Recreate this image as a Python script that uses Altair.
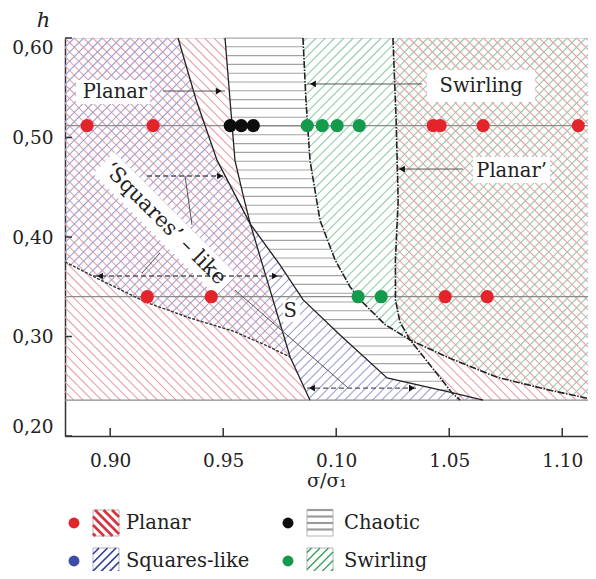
import json
import numpy as np
import pandas as pd
import altair as alt

SERIF = "DejaVu Serif"

# ---------------- axis ticks / labels ----------------
X_TICKS = [0.90, 0.95, 1.00, 1.05, 1.10]
X_TICK_LABELS = ["0.90", "0.95", "0.10", "1.05", "1.10"]
Y_TICKS = [0.20, 0.30, 0.40, 0.50, 0.60]
Y_TICK_LABELS = ["0,20", "0,30", "0,40", "0,50", "0,60"]
X_TITLE = "σ/σ₁"
Y_TITLE = "h"
X_DOMAIN = [0.88, 1.1114]
Y_DOMAIN = [0.20, 0.60]

# ---------------- measurement rows ----------------
H_UPPER = 0.512
H_LOWER = 0.340
H_BOTTOM = 0.236

PLANAR_UPPER = [0.8898, 0.9190, 1.0429, 1.0460, 1.0650, 1.1071]
CHAOTIC_UPPER = [0.9531, 0.9580, 0.9633]
SWIRLING_UPPER = [0.9872, 0.9938, 1.0004, 1.0102]
PLANAR_LOWER = [0.9164, 0.9447, 1.0482, 1.0668]
SWIRLING_LOWER = [1.0097, 1.0199]

# ---------------- regime boundaries (sigma/sigma1, h) ----------------
X_AB = (0.9620, 0.4130)
P_DB = (0.9796, 0.2794)
X_SP = (1.0327, 0.2965)
X_AP = (1.0512, 0.2435)

CURVE_A = [(0.9300, 0.600), (0.9380, 0.538), (0.9473, 0.477), X_AB, (0.9751, 0.372),
           (0.9853, 0.337), (1.0017, 0.3015), (1.0225, 0.2583), X_AP, (1.0650, 0.236)]
CURVE_B = [(0.9508, 0.600), (0.9530, 0.538), (0.9552, 0.477), (0.9588, 0.442), X_AB,
           (0.9720, 0.337), P_DB, (0.9884, 0.236)]
CURVE_SR = [(0.9853, 0.600), (0.9866, 0.538), (0.9884, 0.477), (0.9928, 0.417), (0.9995, 0.377),
            (1.0061, 0.350), (1.0105, 0.337), (1.0216, 0.312), X_SP, (1.0504, 0.278),
            (1.0712, 0.259), (1.0946, 0.246), (1.1114, 0.2378)]
CURVE_P = [(1.0251, 0.600), (1.0265, 0.518), (1.0274, 0.437), (1.0262, 0.377), (1.0262, 0.337),
           (1.0282, 0.3146), X_SP, (1.0415, 0.2714), X_AP, (1.0548, 0.236)]
CURVE_D = [(0.8800, 0.375), (0.8955, 0.357), (0.9163, 0.334), (0.9353, 0.3186),
           (0.9543, 0.3055), (0.9685, 0.2915), P_DB]

# ---------------- annotations ----------------
LABEL_TEXT = ["Planar", "Swirling", "Planar’", "S"]
LABEL_X = [0.9021, 1.0641, 1.0776, 0.9796]
LABEL_H = [0.5457, 0.5518, 0.4663, 0.3256]
LABEL_BOX = [(0.8849, 0.9176, 0.5337, 0.5578), (1.0402, 1.0880, 0.5357, 0.5678),
             (1.0605, 1.0946, 0.4543, 0.4804), (0.9765, 0.9840, 0.3146, 0.3367)]
ROT_TEXT = "‘Squares’ – like"
ROT_AT = (0.9242, 0.4131)
ROT_BAND = [(0.8972, 0.4745), (0.9513, 0.3517)]

SOLID_LEADERS = [((0.9234, 0.5467), (0.9508, 0.5467)),
                 ((1.0380, 0.5538), (0.9871, 0.5538)),
                 ((1.0561, 0.4683), (1.0265, 0.4683)),
                 ((0.9331, 0.4613), (0.9362, 0.4121)),
                 ((0.9220, 0.3839), (0.9141, 0.3638)),
                 ((0.9552, 0.3467), (1.0048, 0.2492))]
DASHED_LEADERS = [((0.9163, 0.4613), (0.9499, 0.4613)),
                  ((0.8924, 0.3608), (0.9765, 0.3608)),
                  ((0.9871, 0.2482), (1.0358, 0.2482))]
HEADS_RIGHT = [(0.9480, 0.5467), (0.9486, 0.4613), (0.9729, 0.3608), (1.0335, 0.2482)]
HEADS_LEFT = [(0.9897, 0.5538), (1.0291, 0.4683), (0.8955, 0.3608), (0.9893, 0.2482)]

LEGEND_LABELS = ["Planar", "Chaotic", "Squares-like", "Swirling"]
LEGEND_DOT_COLORS = ["#e3242b", "#0d0d0d", "#3b4da6", "#139a4a"]
LEGEND_HATCH = ["back", "horiz", "fwd", "fwd"]
LEGEND_HATCH_COLORS = ["#d8343f", "#9a9a9a", "#2d3c98", "#2b9a57"]

# ---------------- geometry helpers ----------------
W, H = 523, 398
PAD = {"left": 57, "top": 30, "right": 0, "bottom": 135}


def to_px(x, h):
    return ((x - X_DOMAIN[0]) / (X_DOMAIN[1] - X_DOMAIN[0]) * W,
            (Y_DOMAIN[1] - h) / (Y_DOMAIN[1] - Y_DOMAIN[0]) * H)


def to_data(px, py):
    return (X_DOMAIN[0] + px / W * (X_DOMAIN[1] - X_DOMAIN[0]),
            Y_DOMAIN[1] - py / H * (Y_DOMAIN[1] - Y_DOMAIN[0]))


def back_uv(kind, u, v):
    if kind == "back":
        return ((v - u) / 2, (v + u) / 2)
    if kind == "fwd":
        return ((u + v) / 2, (u - v) / 2)
    return (v, u)


def hatch(poly, kind, step, phase=0.0):
    P = np.asarray(poly, dtype=float)
    X, Y = P[:, 0], P[:, 1]
    if kind == "back":
        u, v = Y - X, X + Y
    elif kind == "fwd":
        u, v = X + Y, X - Y
    else:
        u, v = Y, X
    n = len(P)
    out = []
    k0 = int(np.floor((u.min() - phase) / step))
    k1 = int(np.ceil((u.max() - phase) / step))
    for k in range(k0, k1 + 1):
        uc = phase + k * step
        hits = []
        for i in range(n):
            u1, v1 = u[i], v[i]
            u2, v2 = u[(i + 1) % n], v[(i + 1) % n]
            if (u1 <= uc < u2) or (u2 <= uc < u1):
                hits.append(v1 + (uc - u1) / (u2 - u1) * (v2 - v1))
        hits.sort()
        for j in range(0, len(hits) - 1, 2):
            out.append((back_uv(kind, uc, hits[j]), back_uv(kind, uc, hits[j + 1])))
    return out


def seg(curve, a, b):
    i, j = curve.index(a), curve.index(b)
    return list(curve[i:j + 1])


A, B, SR, P, D = CURVE_A, CURVE_B, CURVE_SR, CURVE_P, CURVE_D
XL, XR = X_DOMAIN
YT = Y_DOMAIN[1]
R1 = [(XL, YT)] + seg(A, A[0], X_AB) + seg(B, X_AB, P_DB)[1:] + list(reversed(D))[1:]
R2 = seg(A, A[0], X_AB) + list(reversed(seg(B, B[0], X_AB)))[1:]
R3 = list(D) + seg(B, P_DB, B[-1])[1:] + [(XL, H_BOTTOM)]
R4 = seg(B, X_AB, B[-1]) + list(reversed(seg(A, X_AB, A[-1])))
R5 = (seg(B, B[0], X_AB) + seg(A, X_AB, X_AP)[1:] + list(reversed(seg(P, X_SP, X_AP)))[1:]
      + list(reversed(seg(SR, SR[0], X_SP)))[1:])
R6 = seg(SR, SR[0], X_SP) + list(reversed(seg(P, P[0], X_SP)))[1:]
R7 = seg(P, P[0], X_SP) + seg(SR, X_SP, SR[-1])[1:] + [(XR, YT)]
R8 = seg(SR, X_SP, SR[-1]) + [(XR, H_BOTTOM)] + list(reversed(seg(P, X_SP, P[-1])))[:-1]

REGION_PATTERNS = [
    (R1, "planar"), (R1, "squares"), (R2, "planar"), (R3, "planar"), (R4, "squares"),
    (R5, "chaotic"), (R6, "swirl"), (R7, "swirl"), (R7, "planar"), (R8, "planar"),
]
PAT_KIND = {"planar": "back", "squares": "fwd", "swirl": "fwd", "chaotic": "horiz"}
PAT_STEP = {"planar": 9.3, "squares": 9.3, "swirl": 9.3, "chaotic": 8.8}
PAT_DOMAIN = ["planar", "squares", "swirl", "chaotic"]
PAT_RANGE = ["#e8a2aa", "#a0a0d6", "#96cea8", "#a3a3a3"]
PAT_WIDTH = [1.1, 1.1, 1.1, 1.4]

rows = []
for poly, pat in REGION_PATTERNS:
    pxpoly = [to_px(*p) for p in poly]
    for (a, b) in hatch(pxpoly, PAT_KIND[pat], PAT_STEP[pat]):
        (x1, y1), (x2, y2) = to_data(*a), to_data(*b)
        rows.append(dict(x=x1, y=y1, x2=x2, y2=y2, pat=pat))
hatch_df = pd.DataFrame(rows)

# ---------------- scales / axes ----------------
XS = alt.Scale(domain=X_DOMAIN, nice=False, zero=False)
YS = alt.Scale(domain=Y_DOMAIN, nice=False, zero=False)
xstep = round(X_TICKS[1] - X_TICKS[0], 6)
ystep = round(Y_TICKS[1] - Y_TICKS[0], 6)
x_axis = alt.Axis(values=X_TICKS,
                  labelExpr=f"{json.dumps(X_TICK_LABELS)}[round((datum.value - {X_TICKS[0]}) / {xstep})]",
                  tickSize=0, grid=False, domainColor="#333", domainWidth=1.5,
                  labelFont=SERIF, labelFontSize=18.5, labelColor="#222", labelPadding=15,
                  titleFont=SERIF, titleFontSize=19, titleFontWeight="normal", titleColor="#222",
                  titlePadding=2)
y_axis = alt.Axis(values=Y_TICKS,
                  labelExpr=f"{json.dumps(Y_TICK_LABELS)}[round((datum.value - {Y_TICKS[0]}) / {ystep})]",
                  tickSize=0, grid=False, domainColor="#333", domainWidth=1.5,
                  labelFont=SERIF, labelFontSize=18.5, labelColor="#222", labelPadding=12,
                  labelFlush=True,
                  titleFont=SERIF, titleFontSize=21, titleFontWeight="normal", titleColor="#222",
                  titleFontStyle="italic", titleAngle=0, titleX=-22, titleY=-18,
                  titleAlign="center", titleBaseline="middle")


def EX(f="x"):
    return alt.X(f"{f}:Q", scale=XS, axis=x_axis, title=X_TITLE)


def EY(f="y"):
    return alt.Y(f"{f}:Q", scale=YS, axis=y_axis, title=Y_TITLE)


layers = []

# hatch fills
layers.append(alt.Chart(hatch_df).mark_rule().encode(
    x=EX(), y=EY(), x2="x2:Q", y2="y2:Q",
    color=alt.Color("pat:N", scale=alt.Scale(domain=PAT_DOMAIN, range=PAT_RANGE), legend=None),
    strokeWidth=alt.StrokeWidth("pat:N", scale=alt.Scale(domain=PAT_DOMAIN, range=PAT_WIDTH), legend=None),
))

# measurement rows and base line
rows_df = pd.DataFrame({"y": [H_UPPER, H_LOWER, H_BOTTOM]})
layers.append(alt.Chart(rows_df).mark_rule(color="#8c8c8c", strokeWidth=1.2).encode(y=EY()))


# boundary curves
def curve_df(curves):
    out = []
    for name, c in curves.items():
        for i, (x, h) in enumerate(c):
            out.append(dict(curve=name, i=i, x=x, y=h))
    return pd.DataFrame(out)


layers.append(alt.Chart(curve_df({"A": CURVE_A, "B": CURVE_B})).mark_line(
    color="#222", strokeWidth=1.3).encode(x=EX(), y=EY(), detail="curve:N", order="i:Q"))
layers.append(alt.Chart(curve_df({"SR": CURVE_SR, "P": CURVE_P})).mark_line(
    color="#222", strokeWidth=1.6, strokeDash=[7, 1.5, 1.5, 1.5]).encode(
    x=EX(), y=EY(), detail="curve:N", order="i:Q"))
layers.append(alt.Chart(curve_df({"D": CURVE_D})).mark_line(
    color="#333", strokeWidth=1.4, strokeDash=[3, 1.5]).encode(
    x=EX(), y=EY(), detail="curve:N", order="i:Q"))

# label backgrounds
box_df = pd.DataFrame(LABEL_BOX, columns=["x", "x2", "y", "y2"])
layers.append(alt.Chart(box_df).mark_rect(color="white").encode(
    x=EX(), x2="x2:Q", y=EY(), y2="y2:Q"))
band_df = pd.DataFrame({"x": [ROT_BAND[0][0]], "y": [ROT_BAND[0][1]],
                        "x2": [ROT_BAND[1][0]], "y2": [ROT_BAND[1][1]]})
layers.append(alt.Chart(band_df).mark_rule(color="white", strokeWidth=30, strokeCap="butt").encode(
    x=EX(), y=EY(), x2="x2:Q", y2="y2:Q"))

# leader lines
sl = pd.DataFrame([dict(x=a[0], y=a[1], x2=b[0], y2=b[1]) for a, b in SOLID_LEADERS])
layers.append(alt.Chart(sl).mark_rule(color="#555", strokeWidth=1).encode(
    x=EX(), y=EY(), x2="x2:Q", y2="y2:Q"))
dl = pd.DataFrame([dict(x=a[0], y=a[1], x2=b[0], y2=b[1]) for a, b in DASHED_LEADERS])
layers.append(alt.Chart(dl).mark_rule(color="#555", strokeWidth=1.3, strokeDash=[5, 3]).encode(
    x=EX(), y=EY(), x2="x2:Q", y2="y2:Q"))
hr = pd.DataFrame(HEADS_RIGHT, columns=["x", "y"])
hl = pd.DataFrame(HEADS_LEFT, columns=["x", "y"])
layers.append(alt.Chart(hr).mark_point(shape="triangle-right", filled=True, color="#111",
                                       size=45, opacity=1).encode(x=EX(), y=EY()))
layers.append(alt.Chart(hl).mark_point(shape="triangle-left", filled=True, color="#111",
                                       size=45, opacity=1).encode(x=EX(), y=EY()))

# annotation text
lab_df = pd.DataFrame({"x": LABEL_X, "y": LABEL_H, "t": LABEL_TEXT})
layers.append(alt.Chart(lab_df).mark_text(font=SERIF, fontSize=19.5, color="#222",
                                          align="center", baseline="middle").encode(
    x=EX(), y=EY(), text="t:N"))
rot_df = pd.DataFrame({"x": [ROT_AT[0]], "y": [ROT_AT[1]], "t": [ROT_TEXT]})
layers.append(alt.Chart(rot_df).mark_text(font=SERIF, fontSize=21, color="#222", angle=45,
                                          align="center", baseline="middle").encode(
    x=EX(), y=EY(), text="t:N"))

# data points
pts = []
for xs, h, kind in [(PLANAR_UPPER, H_UPPER, "Planar"), (CHAOTIC_UPPER, H_UPPER, "Chaotic"),
                    (SWIRLING_UPPER, H_UPPER, "Swirling"), (PLANAR_LOWER, H_LOWER, "Planar"),
                    (SWIRLING_LOWER, H_LOWER, "Swirling")]:
    for x in xs:
        pts.append(dict(x=x, y=h, kind=kind))
pts_df = pd.DataFrame(pts)
layers.append(alt.Chart(pts_df).mark_circle(size=175, opacity=1).encode(
    x=EX(), y=EY(),
    color=alt.Color("kind:N", scale=alt.Scale(domain=LEGEND_LABELS, range=LEGEND_DOT_COLORS),
                    legend=None)))

# inward ticks
tick_len_y = 8 / H * (Y_DOMAIN[1] - Y_DOMAIN[0])
tick_len_x = 7 / W * (X_DOMAIN[1] - X_DOMAIN[0])
xt = pd.DataFrame({"x": X_TICKS, "y": Y_DOMAIN[0], "y2": Y_DOMAIN[0] + tick_len_y})
yt = pd.DataFrame({"y": Y_TICKS, "x": X_DOMAIN[0], "x2": X_DOMAIN[0] + tick_len_x})
layers.append(alt.Chart(xt).mark_rule(color="#333", strokeWidth=1.5).encode(
    x=EX(), y=EY(), y2="y2:Q"))
layers.append(alt.Chart(yt).mark_rule(color="#333", strokeWidth=1.5).encode(
    x=EX(), x2="x2:Q", y=EY()))

# ---------------- legend (below the plot) ----------------
LEG_ROW_PY = [485, 523]
LEG_DOT_PX = [9, 223]
LEG_BOX_PX = [(28, 54), (242, 268)]
LEG_TEXT_PX = [61, 279]
LEG_BOX_HALF = 13

leg_dots, leg_text, leg_boxes, leg_hatch = [], [], [], []
for i, lab in enumerate(LEGEND_LABELS):
    r, c = i // 2, i % 2
    py = LEG_ROW_PY[r]
    dx, dy = to_data(LEG_DOT_PX[c], py)
    leg_dots.append(dict(x=dx, y=dy, kind=lab))
    tx, ty = to_data(LEG_TEXT_PX[c], py)
    leg_text.append(dict(x=tx, y=ty, t=lab))
    b0, b1 = LEG_BOX_PX[c]
    (bx0, by0), (bx1, by1) = to_data(b0, py - LEG_BOX_HALF), to_data(b1, py + LEG_BOX_HALF)
    leg_boxes.append(dict(x=bx0, x2=bx1, y=by0, y2=by1))
    square = [(b0, py - LEG_BOX_HALF), (b1, py - LEG_BOX_HALF),
              (b1, py + LEG_BOX_HALF), (b0, py + LEG_BOX_HALF)]
    kind = LEGEND_HATCH[i]
    step = 6.5 if kind == "horiz" else 8.5
    for (a, b) in hatch(square, kind, step, phase=(py - LEG_BOX_HALF) if kind == "horiz" else 0.0):
        (x1, y1), (x2, y2) = to_data(*a), to_data(*b)
        leg_hatch.append(dict(x=x1, y=y1, x2=x2, y2=y2, kind=lab))

layers.append(alt.Chart(pd.DataFrame(leg_boxes)).mark_rect(
    fill="white", stroke="#b5b5b5", strokeWidth=1).encode(x=EX(), x2="x2:Q", y=EY(), y2="y2:Q"))
layers.append(alt.Chart(pd.DataFrame(leg_hatch)).mark_rule().encode(
    x=EX(), y=EY(), x2="x2:Q", y2="y2:Q",
    color=alt.Color("kind:N", scale=alt.Scale(domain=LEGEND_LABELS, range=LEGEND_HATCH_COLORS),
                    legend=None),
    strokeWidth=alt.StrokeWidth("kind:N", scale=alt.Scale(domain=LEGEND_LABELS,
                                                          range=[2.6, 1.2, 2.6, 2.6]), legend=None)))
layers.append(alt.Chart(pd.DataFrame(leg_dots)).mark_circle(size=120, opacity=1).encode(
    x=EX(), y=EY(),
    color=alt.Color("kind:N", scale=alt.Scale(domain=LEGEND_LABELS, range=LEGEND_DOT_COLORS),
                    legend=None)))
layers.append(alt.Chart(pd.DataFrame(leg_text)).mark_text(
    font=SERIF, fontSize=19.5, color="#222", align="left", baseline="middle").encode(
    x=EX(), y=EY(), text="t:N"))

chart = alt.layer(*layers).resolve_scale(color="independent", strokeWidth="independent").properties(
    width=W, height=H,
    padding=PAD,
    autosize=alt.AutoSizeParams(type="none"),
).configure_view(stroke="#3a3a3a", strokeWidth=1.5).configure(font=SERIF)

chart.save("out.html", embed_options={"renderer": "svg", "actions": False})
